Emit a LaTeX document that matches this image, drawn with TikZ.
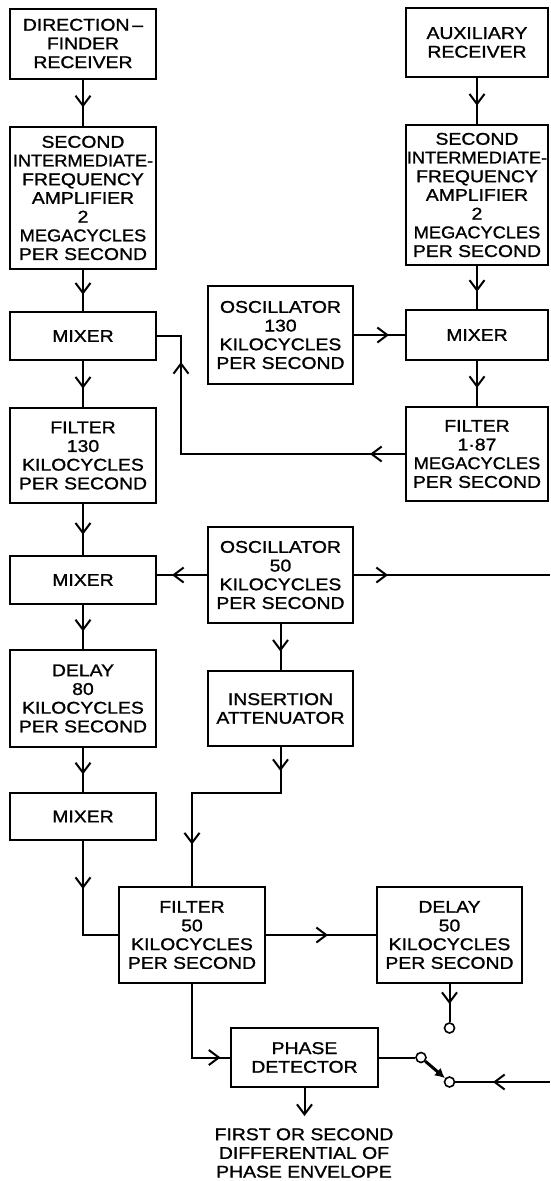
\documentclass[tikz,border=0pt]{standalone}
\usepackage{fontspec}
\setmainfont{Liberation Sans}[FakeStretch=1.14,FakeBold=1.2]
\usetikzlibrary{arrows.meta,decorations.markings}

\newcommand\squeeze[1]{\scalebox{0.94}[1]{#1}}

\tikzset{
  vee/.tip={Straight Barb[length=10pt,width=15pt]},
  block/.style={draw,align=center,inner sep=0pt,
        font=\fontsize{17}{18.7}\selectfont},
  arrowat/.style={postaction={decorate,decoration={markings,
        mark=at position #1 with {\arrow{vee}}}}},
  contact/.style={circle,draw,fill=white,inner sep=0pt,minimum size=10pt,
        line width=1.6pt},
}

\begin{document}
\begin{tikzpicture}[x=1pt,y=-1pt,line width=2pt]
  \useasboundingbox (0,0) rectangle (550,1181);

  % ---- direction-finder chain (left column) ------------------------------
  \node[block,minimum width=146pt,minimum height=70pt] (dfrx) at (83,43.5)
        {DIRECTION\,--\\FINDER\\RECEIVER};
  \node[block,minimum width=146pt,minimum height=142pt] (sifl) at (83,198)
        {SECOND\\\squeeze{INTERMEDIATE-}\\FREQUENCY\\AMPLIFIER\\2\\
         \squeeze{MEGACYCLES}\\PER SECOND};
  \node[block,minimum width=146pt,minimum height=48pt] (mixa) at (83,336)
        {MIXER};
  \node[block,minimum width=146pt,minimum height=95pt] (filta) at (83,455.5)
        {FILTER\\130\\KILOCYCLES\\PER SECOND};
  \node[block,minimum width=146pt,minimum height=48pt] (mixc) at (83,580)
        {MIXER};
  \node[block,minimum width=146pt,minimum height=97pt] (dlya) at (83,698.5)
        {DELAY\\80\\KILOCYCLES\\PER SECOND};
  \node[block,minimum width=146pt,minimum height=47pt] (mixd) at (83,816.5)
        {MIXER};

  % ---- auxiliary chain (right column) ------------------------------------
  \node[block,minimum width=142pt,minimum height=69pt] (auxrx) at (477,42.5)
        {AUXILIARY\\RECEIVER};
  \node[block,minimum width=142pt,minimum height=140pt] (sifr) at (477,195)
        {SECOND\\\squeeze{INTERMEDIATE-}\\FREQUENCY\\AMPLIFIER\\2\\
         \squeeze{MEGACYCLES}\\PER SECOND};
  \node[block,minimum width=142pt,minimum height=50pt] (mixb) at (477,335)
        {MIXER};
  \node[block,minimum width=142pt,minimum height=94pt] (filtb) at (477,454)
        {FILTER\\1·87\\\squeeze{MEGACYCLES}\\PER SECOND};

  % ---- oscillators and attenuator (middle column) ------------------------
  \node[block,minimum width=145pt,minimum height=98pt] (osca) at (280.5,335)
        {OSCILLATOR\\130\\KILOCYCLES\\PER SECOND};
  \node[block,minimum width=145pt,minimum height=96pt] (oscb) at (280.5,575)
        {OSCILLATOR\\50\\KILOCYCLES\\PER SECOND};
  \node[block,minimum width=145pt,minimum height=75pt] (att) at (280.5,708.5)
        {INSERTION\\ATTENUATOR};

  % ---- 50 kc/s filter, delay and phase detector --------------------------
  \node[block,minimum width=146pt,minimum height=96pt] (filtc) at (192,935)
        {FILTER\\50\\KILOCYCLES\\PER SECOND};
  \node[block,minimum width=145pt,minimum height=96pt] (dlyb) at (449.5,935)
        {DELAY\\50\\KILOCYCLES\\PER SECOND};
  \node[block,minimum width=147pt,minimum height=59pt] (phdet) at (304.5,1057.5)
        {PHASE\\DETECTOR};
  \node[block,draw=none] (outtxt) at (304,1153)
        {FIRST OR SECOND\\DIFFERENTIAL OF\\PHASE ENVELOPE};

  % switch contacts
  \node[contact] (cup) at (449.5,1028) {};
  \node[contact] (piv) at (421,1057.5) {};
  \node[contact] (cdn) at (449.5,1082) {};

  \coordinate (jmix)  at (181,336);
  \coordinate (jatt)  at (280.5,793);
  \coordinate (edgea) at (550,575);
  \coordinate (edgeb) at (550,1082);
  \coordinate (pdout) at (304.5,1116);

  % ---- feeds straight down the columns -----------------------------------
  \foreach \a/\b in {dfrx/sifl,sifl/mixa,mixa/filta,filta/mixc,mixc/dlya,
                     dlya/mixd,auxrx/sifr,sifr/mixb,mixb/filtb,oscb/att}
     \draw[arrowat=0.6] (\a.south) -- (\b.north);

  % ---- cross connections -------------------------------------------------
  \draw[arrowat=35pt] (osca.east) -- (mixb.west);
  \draw[arrowat=35pt,arrowat=316pt] (filtb.west) -| (jmix) -- (mixa.east);
  \draw[arrowat=35pt] (oscb.west) -- (oscb.west -| mixc.east);
  \draw[arrowat=34pt] (oscb.east) -- (edgea);
  \draw[arrowat=24pt,arrowat=186pt] (att.south) -- (jatt) -| (filtc.north);
  \draw[arrowat=48pt] (mixd.south) |- (filtc.west);
  \draw[arrowat=62pt] (filtc.east) -- (dlyb.west);
  \draw[arrowat=20pt] (dlyb.south) -- (cup);
  \draw[arrowat=102pt] (filtc.south) |- (phdet.west);

  % ---- switch and output -------------------------------------------------
  \draw (phdet.east) -- (piv);
  \draw[line width=3pt,-{Latex[length=10pt,width=10pt]}] (piv) -- (cdn);
  \draw[arrowat=57pt] (edgeb) -- (cdn);
  \draw[-vee] (phdet.south) -- (pdout);

\end{tikzpicture}
\end{document}
